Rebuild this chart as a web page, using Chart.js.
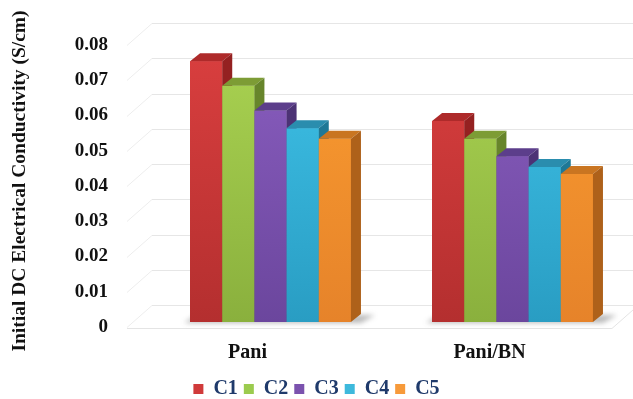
<!DOCTYPE html>
<html>
<head>
<meta charset="utf-8">
<script src="https://cdn.jsdelivr.net/npm/chart.js@4.4.1/dist/chart.umd.min.js"></script>
<style>
  html, body { margin: 0; padding: 0; background: #ffffff; }
  #wrap { width: 633px; height: 399px; }
</style>
</head>
<body>
<div id="wrap"><canvas id="chart" width="633" height="399"></canvas></div>
<script>
// Samples and their initial DC conductivity (S/cm)
const categories = ['Pani', 'Pani/BN'];
const seriesNames = ['C1', 'C2', 'C3', 'C4', 'C5'];
const c1 = [0.074, 0.057];
const c2 = [0.067, 0.052];
const c3 = [0.060, 0.047];
const c4 = [0.055, 0.044];
const c5 = [0.052, 0.042];
const yTickLabels = ['0', '0.01', '0.02', '0.03', '0.04', '0.05', '0.06', '0.07', '0.08'];
const yTitle = 'Initial DC Electrical Conductivity (S/cm)';

// Face colours for each series: front gradient (top -> bottom), top face, side face, legend swatch
const palette = [
  { hi: '#DA3F3F', lo: '#B42F2F', top: '#AE2A2A', side: '#942121', key: '#D03A3A' },
  { hi: '#AAD352', lo: '#8AB03D', top: '#7D9C35', side: '#67852B', key: '#9BCB4E' },
  { hi: '#8A5EC0', lo: '#6B469D', top: '#5C3E8B', side: '#4C3275', key: '#7B52AE' },
  { hi: '#3FC2E8', lo: '#299DC3', top: '#2A8DAE', side: '#1E7896', key: '#3DB9DC' },
  { hi: '#FA9C30', lo: '#E6832A', top: '#C97521', side: '#AE611A', key: '#F79A3A' }
];
const seriesValues = [c1, c2, c3, c4, c5];

const SERIF = "'Liberation Serif', 'Times New Roman', serif";
const DEPTH_X = 10, DEPTH_Y = -8;      // bar depth
const WALL_X = 25, WALL_Y = -22;       // side wall depth
const FRONT_SHIFT_Y = 5;               // axis plane sits just in front of the bars

function frontFill(hi, lo) {
  return (ctx) => {
    const area = ctx.chart.chartArea;
    if (!area) return hi;
    const g = ctx.chart.ctx.createLinearGradient(0, area.top, 0, area.bottom);
    g.addColorStop(0, hi);
    g.addColorStop(1, lo);
    return g;
  };
}

function poly(ctx, pts, fill) {
  ctx.beginPath();
  ctx.moveTo(pts[0][0], pts[0][1]);
  for (let i = 1; i < pts.length; i++) ctx.lineTo(pts[i][0], pts[i][1]);
  ctx.closePath();
  ctx.fillStyle = fill;
  ctx.fill();
}

// Draws the walls, floor and the top/side faces that give the bars depth
const bars3d = {
  id: 'bars3d',
  afterLayout(chart) {
    // centre the legend under the whole canvas and drop it a little lower
    const lg = chart.legend;
    if (lg) {
      const dx = (chart.width - (lg.left + lg.right)) / 2;
      lg.left += dx; lg.right += dx;
      lg.top += 10; lg.bottom += 10;
    }
  },
  beforeDatasetsDraw(chart) {
    const { ctx, scales: { x, y } } = chart;
    const frontLeft = x.getPixelForValue(-0.593);
    const frontRight = x.getPixelForValue(1.411);
    const backLeft = frontLeft + WALL_X;
    ctx.save();
    ctx.lineWidth = 1;
    y.ticks.forEach((t) => {
      const py = Math.round(y.getPixelForValue(t.value) + FRONT_SHIFT_Y) + 0.5;
      // side wall
      ctx.strokeStyle = '#EDEDED';
      ctx.beginPath();
      ctx.moveTo(frontLeft, py);
      ctx.lineTo(backLeft, py + WALL_Y);
      ctx.stroke();
      // back wall
      ctx.strokeStyle = '#E6E6E6';
      ctx.beginPath();
      ctx.moveTo(backLeft, py + WALL_Y);
      ctx.lineTo(chart.width, py + WALL_Y);
      ctx.stroke();
    });
    // front edge of the floor
    const fy = Math.round(y.getPixelForValue(0) + FRONT_SHIFT_Y + 1) + 0.5;
    ctx.strokeStyle = '#E4E4E4';
    ctx.beginPath();
    ctx.moveTo(frontLeft, fy);
    ctx.lineTo(frontRight, fy);
    ctx.lineTo(frontRight + WALL_X, fy + WALL_Y);
    ctx.stroke();

    // soft shadow under each group of bars
    const first = chart.getDatasetMeta(0).data;
    const last = chart.getDatasetMeta(seriesValues.length - 1).data;
    ctx.filter = 'blur(2.5px)';
    first.forEach((b, i) => {
      const l = b.x - b.width / 2;
      const e = last[i];
      const r = e.x + e.width / 2;
      const base = b.base;
      poly(ctx, [[l - 6, base + 1], [r + 10, base + 1], [r + DEPTH_X + 14, base + DEPTH_Y + 1], [l + DEPTH_X - 4, base + DEPTH_Y + 1]], 'rgba(60,60,60,0.35)');
    });
    ctx.filter = 'none';
    ctx.restore();
  },
  afterDatasetsDraw(chart) {
    const { ctx } = chart;
    ctx.save();
    // paint series left to right so each side face tucks behind its neighbour
    seriesValues.forEach((_, i) => {
      const col = palette[i];
      chart.getDatasetMeta(i).data.forEach((bar) => {
        bar.draw(ctx);
        const { x, y, base, width } = bar.getProps(['x', 'y', 'base', 'width'], true);
        const l = x - width / 2, r = x + width / 2;
        poly(ctx, [[l, y], [r, y], [r + DEPTH_X, y + DEPTH_Y], [l + DEPTH_X, y + DEPTH_Y]], col.top);
        poly(ctx, [[r, y], [r + DEPTH_X, y + DEPTH_Y], [r + DEPTH_X, base + DEPTH_Y], [r, base]], col.side);
      });
    });
    ctx.restore();
  }
};

const datasets = seriesNames.map((name, i) => ({
  label: name,
  data: seriesValues[i],
  backgroundColor: frontFill(palette[i].hi, palette[i].lo),
  borderWidth: 0,
  categoryPercentage: 0.665,
  barPercentage: 1,
  clip: false
}));

new Chart(document.getElementById('chart'), {
  type: 'bar',
  data: { labels: categories, datasets },
  plugins: [bars3d],
  options: {
    responsive: false,
    animation: false,
    devicePixelRatio: 1,
    events: [],
    layout: { padding: { top: 40, right: 120.5, left: 0, bottom: 0 } },
    scales: {
      x: {
        offset: false,
        grid: { display: false, drawTicks: false },
        border: { display: false },
        ticks: {
          padding: 19,
          labelOffset: -23,
          maxRotation: 0,
          autoSkip: false,
          color: '#111111',
          font: { family: SERIF, size: 20, weight: 'bold' }
        },
        afterFit: (s) => { s.height = 41; s.paddingLeft = 0; s.paddingRight = 0; }
      },
      y: {
        min: 0,
        max: 0.08,
        grid: { display: false, drawTicks: false },
        border: { display: false },
        ticks: {
          stepSize: 0.01,
          padding: 162.5,
          labelOffset: FRONT_SHIFT_Y,
          color: '#111111',
          font: { family: SERIF, size: 19, weight: 'bold' },
          callback: (v, i) => yTickLabels[i]
        },
        title: {
          display: true,
          text: yTitle,
          color: '#111111',
          padding: { top: 8, bottom: 0 },
          font: { family: SERIF, size: 19.5, weight: 'bold' }
        },
        afterFit: (s) => { s.width = 270.5; s.paddingTop = 0; s.paddingBottom = 0; }
      }
    },
    plugins: {
      tooltip: { enabled: false },
      legend: {
        position: 'bottom',
        labels: {
          boxWidth: 10,
          boxHeight: 10,
          padding: 6,
          color: '#1F3A6B',
          font: { family: SERIF, size: 20, weight: 'bold' },
          generateLabels: (chart) => Chart.defaults.plugins.legend.labels.generateLabels(chart).map((it) => {
            it.fillStyle = palette[it.datasetIndex].key;
            it.strokeStyle = palette[it.datasetIndex].key;
            it.lineWidth = 0;
            return it;
          })
        }
      }
    }
  }
});
</script>
</body>
</html>
